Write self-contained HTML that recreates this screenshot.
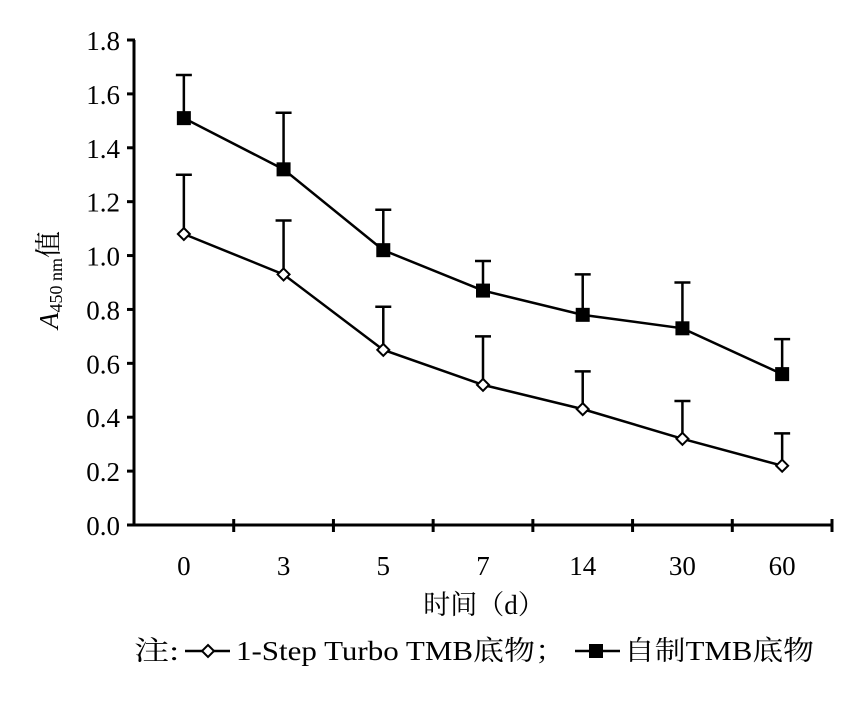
<!DOCTYPE html>
<html><head><meta charset="utf-8"><style>
body{margin:0;background:#fff}
svg text{font-family:"Liberation Serif","Noto Serif CJK SC",serif;fill:#000}
</style></head><body>
<svg width="864" height="696" id="c" xmlns="http://www.w3.org/2000/svg"></svg>
<script>
const categories=["0","3","5","7","14","30","60"];
const turbo=[1.08,0.93,0.65,0.52,0.43,0.32,0.22];
const turboErr=[0.22,0.20,0.16,0.18,0.14,0.14,0.12];
const homemade=[1.51,1.32,1.02,0.87,0.78,0.73,0.56];
const homemadeErr=[0.16,0.21,0.15,0.11,0.15,0.17,0.13];
const yTicks=[0,0.2,0.4,0.6,0.8,1.0,1.2,1.4,1.6,1.8];
const svg=document.getElementById('c');
const NS='http://www.w3.org/2000/svg';
const x0=134,x1=832,y0=525,y1=40,ymax=1.8;
const band=(x1-x0)/categories.length;
function X(i){return x0+band*(i+0.5);}
function Y(v){return y0-(v/ymax)*(y0-y1);}
function el(t,a,p){const e=document.createElementNS(NS,t);for(const k in a)e.setAttribute(k,a[k]);(p||svg).appendChild(e);return e;}
let ax=el('line',{x1:x0,y1:y0,x2:x1,y2:y0,stroke:'#000','stroke-width':3});


let ay=el('line',{x1:x0,y1:y0+1,x2:x0,y2:y1,stroke:'#000','stroke-width':3});


yTicks.forEach(v=>{
  const y=Y(v);
  const t=el('line',{x1:x0-7,y1:y,x2:x0+1,y2:y,stroke:'#000','stroke-width':3});
  
  
  const l=el('text',{x:x0-14,y:y+10,'font-size':27,'text-anchor':'end'});
  l.textContent=v.toFixed(1);
  
  
});
categories.forEach((c,i)=>{
  const tx=x0+band*(i+1);
  const t=el('line',{x1:tx,y1:y0-6,x2:tx,y2:y0+7,stroke:'#000','stroke-width':3});
  
  
  const l=el('text',{x:X(i),y:y0+50,'font-size':27,'text-anchor':'middle'});
  l.textContent=c;
  
  
});
function series(vals,errs,name,marker){
  const g=el('g',{});
  
  
  vals.forEach((v,i)=>{
    const e=el('path',{d:`M${X(i)},${Y(v)}V${Y(v+errs[i])}M${X(i)-8},${Y(v+errs[i])}H${X(i)+8}`,stroke:'#000','stroke-width':2.5,fill:'none'},g);
    
    
  });
  const ln=el('polyline',{points:vals.map((v,i)=>X(i)+','+Y(v)).join(' '),fill:'none',stroke:'#000','stroke-width':2.5},g);
  
  
  vals.forEach((v,i)=>{
    let m;
    if(marker==='sq') m=el('rect',{x:X(i)-7,y:Y(v)-7,width:14,height:14,fill:'#000'},g);
    else m=el('path',{d:`M${X(i)},${Y(v)-6}l6,6l-6,6l-6,-6z`,fill:'#fff',stroke:'#000','stroke-width':2},g);
    
    
  });
}
series(turbo,turboErr,'series-turbo','dia');
series(homemade,homemadeErr,'series-homemade','sq');
const yt=el('text',{transform:'translate(58,280) rotate(-90)','font-size':27,'text-anchor':'middle'});


yt.innerHTML='<tspan font-style="italic">A</tspan><tspan font-size="18" dy="4">450 nm</tspan><tspan dy="-4">值</tspan>';
const xt=el('text',{x:484,y:614,'font-size':27,'text-anchor':'middle'});
xt.textContent='时间（d）';


const lg=el('g',{});


const lt=el('text',{x:134,y:660,'font-size':27,textLength:45,lengthAdjust:'spacingAndGlyphs'},lg);
lt.textContent='注:';
el('line',{x1:185,y1:651,x2:230,y2:651,stroke:'#000','stroke-width':2.5},lg);
el('path',{d:'M208,645l6,6l-6,6l-6,-6z',fill:'#fff',stroke:'#000','stroke-width':2},lg);
const l1=el('text',{x:236,y:660,'font-size':27,textLength:330,lengthAdjust:'spacingAndGlyphs'},lg);
l1.textContent='1-Step Turbo TMB底物；';


el('line',{x1:575,y1:651,x2:620,y2:651,stroke:'#000','stroke-width':2.5},lg);
el('rect',{x:589,y:644,width:14,height:14,fill:'#000'},lg);
const l2=el('text',{x:624,y:660,'font-size':27,textLength:190,lengthAdjust:'spacingAndGlyphs'},lg);
l2.textContent='自制TMB底物';


</script>
</body></html>
